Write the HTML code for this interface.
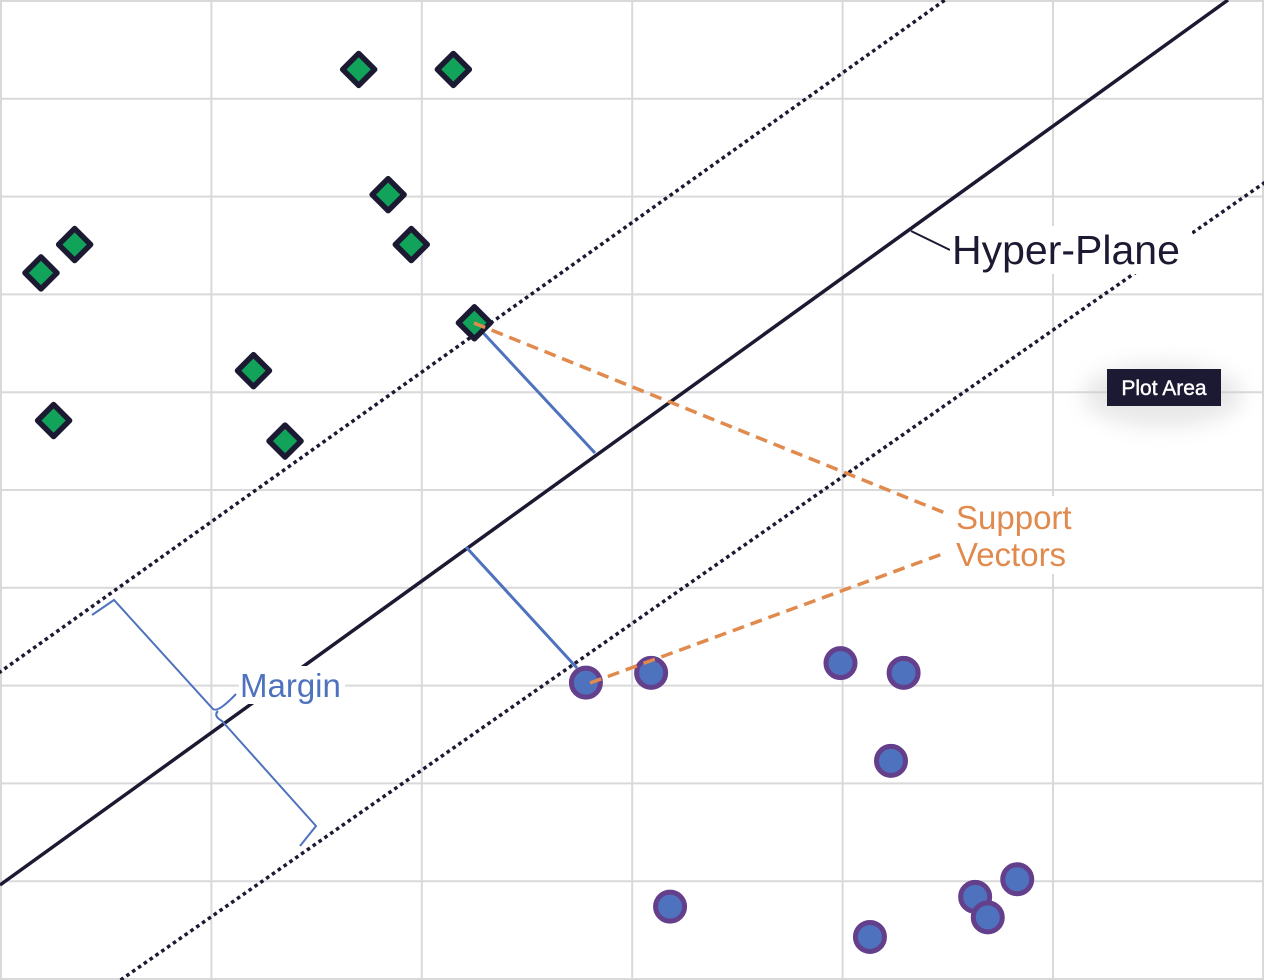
<!DOCTYPE html>
<html><head><meta charset="utf-8"><style>
html,body{margin:0;padding:0;background:#fff;}
svg{display:block;font-family:"Liberation Sans",Arial,sans-serif;}
</style></head><body>
<svg id="chart" width="1264" height="980" viewBox="0 0 1264 980">
<defs>
<filter id="glow" x="-50%" y="-100%" width="200%" height="300%"><feGaussianBlur stdDeviation="10"/></filter>
</defs>
<g id="grid"></g>
<g id="lines">
<line x1="0" y1="672" x2="945" y2="0" stroke="#1c1a33" stroke-width="3.5" stroke-dasharray="0.1 7" stroke-linecap="square"/>
<line x1="122" y1="979" x2="1264" y2="183" stroke="#1c1a33" stroke-width="3.5" stroke-dasharray="0.1 7" stroke-linecap="square"/>
<line x1="0" y1="885" x2="1228" y2="0" stroke="#1c1a33" stroke-width="3.5"/>
<line x1="474" y1="323" x2="595" y2="453" stroke="#4e72be" stroke-width="3"/>
<line x1="466" y1="547" x2="577" y2="668" stroke="#4e72be" stroke-width="3"/>
</g>
<g id="pts"></g>
<g>
<line x1="474" y1="323" x2="945" y2="513" stroke="#e08a4e" stroke-width="3.5" stroke-dasharray="12 7"/>
<line x1="590" y1="683" x2="945" y2="553" stroke="#e08a4e" stroke-width="3.5" stroke-dasharray="12 7"/>
<path d="M92,615 L114,600 L213,709 Q218,713 236,694 M218,711 Q213,716 222,721 L316,826 L300,846" fill="none" stroke="#4e72be" stroke-width="2"/>
<line x1="911" y1="231" x2="950" y2="250" stroke="#1c1a33" stroke-width="2"/>
<rect x="950" y="226" width="242" height="48" fill="#fff"/>
<text x="952" y="264" font-size="41" fill="#1c1a33">Hyper-Plane</text>
<rect x="955" y="496" width="122" height="78" fill="#fff"/>
<text x="956" y="529" font-size="33" fill="#e08a4e">Support</text>
<text x="956" y="566" font-size="33" fill="#e08a4e">Vectors</text>
<rect x="239" y="666" width="106" height="38" fill="#fff"/>
<text x="240" y="697" font-size="33" fill="#4e72be">Margin</text>
<ellipse cx="1163" cy="395" rx="80" ry="32" fill="#ccc" opacity="0.45" filter="url(#glow)"/>
<rect x="1107" y="369" width="114" height="37" fill="#1c1a33"/>
<text x="1164" y="395" font-size="21" fill="#fff" stroke="#fff" stroke-width="0.4" text-anchor="middle">Plot Area</text>
</g>
</svg>
<script>
const xTicks = [0,1,2,3,4,5,6];
const yTicks = [0,1,2,3,4,5,6,7,8,9,10];
const classAX = [1.70,2.15,1.84,1.95,0.35,0.19,2.25,1.20,0.25,1.35];
const classAY = [9.30,9.30,8.02,7.51,7.51,7.22,6.71,6.22,5.71,5.50];
const classBX = [2.78,3.09,3.99,4.29,4.23,3.18,4.13,4.63,4.69,4.83];
const classBY = [3.03,3.13,3.23,3.13,2.23,0.74,0.43,0.84,0.63,1.02];
const NS='http://www.w3.org/2000/svg';
const sx = v => 1 + v*210.4;
const sy = v => 979 - v*97.8;
const grid = document.getElementById('grid');
xTicks.forEach(t=>{
  const l=document.createElementNS(NS,'line');
  l.setAttribute('x1',sx(t));l.setAttribute('x2',sx(t));l.setAttribute('y1',0);l.setAttribute('y2',980);
  l.setAttribute('stroke','#d9d9d9');l.setAttribute('stroke-width','2');
  
  
  grid.appendChild(l);
});
const rl=document.createElementNS(NS,'line');
rl.setAttribute('x1',1263);rl.setAttribute('x2',1263);rl.setAttribute('y1',0);rl.setAttribute('y2',980);
rl.setAttribute('stroke','#d9d9d9');rl.setAttribute('stroke-width','2');


grid.appendChild(rl);
yTicks.forEach(t=>{
  const l=document.createElementNS(NS,'line');
  l.setAttribute('x1',0);l.setAttribute('x2',1264);l.setAttribute('y1',sy(t));l.setAttribute('y2',sy(t));
  l.setAttribute('stroke','#d9d9d9');l.setAttribute('stroke-width','2');
  
  
  grid.appendChild(l);
});
const pts=document.getElementById('pts');
classAX.forEach((v,i)=>{
  const cx=sx(v), cy=sy(classAY[i]);
  const p=document.createElementNS(NS,'polygon');
  p.setAttribute('points',`${cx},${cy-16} ${cx+16},${cy} ${cx},${cy+16} ${cx-16},${cy}`);
  p.setAttribute('fill','#12a35a');p.setAttribute('stroke','#1c1a33');p.setAttribute('stroke-width','5.5');p.setAttribute('stroke-linejoin','round');
  
  
  pts.appendChild(p);
});
classBX.forEach((v,i)=>{
  const c=document.createElementNS(NS,'circle');
  c.setAttribute('cx',sx(v));c.setAttribute('cy',sy(classBY[i]));c.setAttribute('r','14.5');
  c.setAttribute('fill','#4e72be');c.setAttribute('stroke','#643f8c');c.setAttribute('stroke-width','5');
  
  
  pts.appendChild(c);
});
</script>
</body></html>
